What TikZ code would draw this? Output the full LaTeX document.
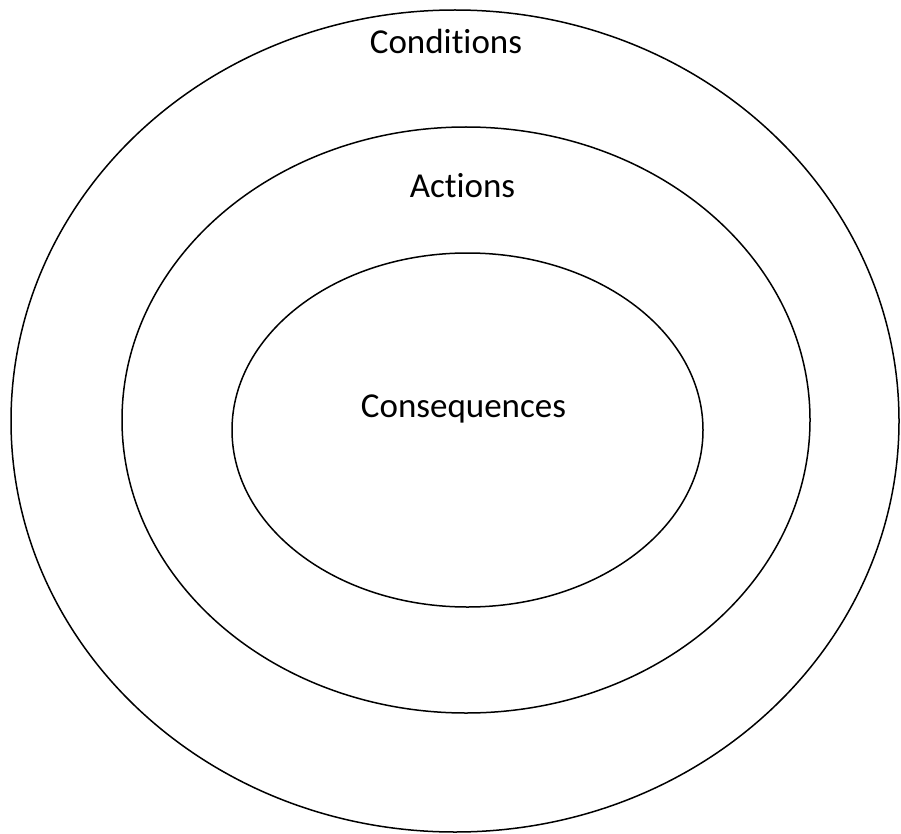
\documentclass[tikz,border=0pt]{standalone}
\usepackage{fontspec}
\setmainfont{Carlito}[Ligatures=CommonOff]
\usetikzlibrary{shapes.geometric}
\begin{document}
\begin{tikzpicture}[x=1pt,y=-1pt,
  ring/.style={draw=black, line width=1.5pt, ellipse, inner sep=0pt},
  lbl/.style={font=\fontsize{35}{40}\selectfont, anchor=base, inner sep=0pt}]
\useasboundingbox (0,0) rectangle (901,834);
\node[ring, minimum width=888pt, minimum height=822pt] (outer) at (455,421) {};
\node[ring, minimum width=688pt, minimum height=586pt] (middle) at (466,420) {};
\node[ring, minimum width=471pt, minimum height=354pt] (inner) at (467.5,430) {};
\node[lbl] (cond) at (446,54) {Conditions};
\node[lbl] (act) at (462.5,198) {Actions};
\node[lbl] (cons) at (463.5,417) {Consequences};
\end{tikzpicture}
\end{document}
